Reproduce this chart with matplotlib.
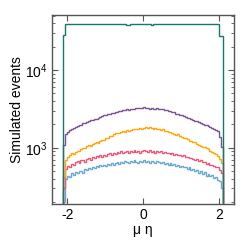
import matplotlib
matplotlib.use("Agg")
import matplotlib.pyplot as plt
import numpy as np
from matplotlib.ticker import LogLocator, NullFormatter

plt.rcParams['font.family'] = ['Liberation Sans', 'DejaVu Sans']
plt.rcParams['mathtext.fontset'] = 'custom'
plt.rcParams['mathtext.rm'] = 'Liberation Sans'

# histogram bins in eta
edges = np.linspace(-2.1, 2.1, 85)

green = [28000, 38500, 38800, 39000, 38900, 39100, 39000, 38800, 39000, 39200,
         39100, 38900, 39000, 39100, 38800, 39000, 38900, 39200, 39100, 39000,
         38800, 39000, 39100, 38900, 39000, 39200, 39000, 38800, 39100, 38900,
         39000, 39100, 38700, 38200, 38300, 38900, 39000, 39100, 38900, 39200,
         39000, 39100, 38900, 39000, 39200, 38600, 38200, 38500, 39000, 39100,
         38900, 39200, 39000, 38800, 39100, 39000, 39200, 38900, 39000, 39100,
         38800, 39000, 39200, 39000, 38900, 39100, 39000, 39200, 38900, 39000,
         39100, 38800, 39000, 39100, 38900, 39000, 39200, 39000, 38800, 39000,
         38900, 38700, 27000, 27000]

purple = [1100, 1520, 1600, 1680, 1740, 1790, 1850, 1880, 1960, 1990,
          2060, 2110, 2150, 2180, 2260, 2290, 2350, 2380, 2450, 2500,
          2530, 2620, 2640, 2700, 2720, 2810, 2830, 2900, 2880, 2980,
          3000, 3060, 3050, 3120, 3100, 3170, 3150, 3200, 3230, 3210,
          3280, 3250, 3300, 3240, 3270, 3200, 3230, 3180, 3200, 3230,
          3180, 3120, 3140, 3060, 3020, 2960, 2970, 2880, 2850, 2760,
          2740, 2660, 2620, 2540, 2510, 2430, 2400, 2350, 2290, 2220,
          2200, 2130, 2090, 2040, 1980, 1950, 1890, 1860, 1810, 1770,
          1700, 1650, 1380, 1030]

orange = [420, 700, 760, 800, 850, 830, 890, 920, 900, 960,
          1000, 980, 1060, 1090, 1070, 1130, 1150, 1180, 1160, 1230,
          1270, 1260, 1330, 1350, 1430, 1420, 1490, 1530, 1570, 1550,
          1610, 1640, 1620, 1680, 1660, 1710, 1730, 1720, 1760, 1740,
          1790, 1760, 1820, 1850, 1790, 1830, 1800, 1770, 1790, 1740,
          1760, 1700, 1720, 1660, 1640, 1600, 1610, 1550, 1520, 1480,
          1490, 1420, 1390, 1350, 1320, 1300, 1240, 1220, 1180, 1190,
          1120, 1100, 1070, 1030, 1010, 980, 960, 920, 880, 860,
          830, 790, 720, 640]

red = [300, 540, 580, 560, 620, 600, 650, 680, 640, 700,
       690, 660, 720, 740, 700, 760, 730, 780, 760, 800,
       770, 820, 790, 840, 850, 820, 870, 840, 880, 860,
       900, 870, 880, 910, 860, 900, 880, 930, 890, 920,
       870, 910, 940, 900, 880, 930, 890, 920, 870, 910,
       880, 900, 860, 890, 850, 870, 840, 860, 820, 840,
       800, 820, 780, 800, 760, 770, 730, 750, 720, 700,
       710, 680, 690, 650, 660, 620, 640, 600, 610, 580,
       560, 570, 520, 470]

blue = [200, 400, 440, 420, 470, 450, 490, 470, 510, 500,
        480, 530, 520, 550, 530, 570, 550, 580, 560, 600,
        580, 610, 590, 620, 600, 640, 610, 630, 650, 620,
        660, 640, 670, 650, 630, 670, 650, 690, 660, 640,
        680, 660, 690, 650, 670, 640, 680, 660, 640, 670,
        650, 630, 660, 620, 640, 610, 630, 600, 620, 590,
        600, 570, 590, 560, 570, 540, 560, 520, 540, 500,
        520, 480, 500, 460, 490, 440, 460, 430, 450, 410,
        420, 390, 370, 300]

series = [(blue, "#67a9d4"), (red, "#ef5675"), (orange, "#ffa600"),
          (purple, "#7a5195"), (green, "#15786a")]

fig = plt.figure(figsize=(2.49, 2.49), dpi=100)
ax = fig.add_axes([0.209, 0.181, 0.731, 0.759])

for vals, col in series:
    ax.stairs(vals, edges, baseline=1, color=col, lw=1.0)

ax.set_yscale("log")
ax.set_xlim(-2.4, 2.4)
ax.set_ylim(190, 5.1e4)
ax.set_xticks([-2, 0, 2])
ax.set_xticklabels(["-2", "0", "2"])
ax.yaxis.set_major_locator(LogLocator(base=10))
ax.yaxis.set_minor_locator(LogLocator(base=10, subs=np.arange(2, 10)))
ax.yaxis.set_minor_formatter(NullFormatter())

for s in ax.spines.values():
    s.set_color("#555555")
    s.set_linewidth(1.0)
ax.tick_params(which="both", direction="in", top=True, right=True,
               colors="#555555", labelcolor="black", labelsize=10, pad=3)
ax.tick_params(which="major", length=4)
ax.tick_params(which="minor", length=2)

ax.set_xlabel("μ η", fontsize=10, labelpad=1)
ax.set_ylabel("Simulated events", fontsize=10, labelpad=1)

fig.savefig("out.png", dpi=100)
